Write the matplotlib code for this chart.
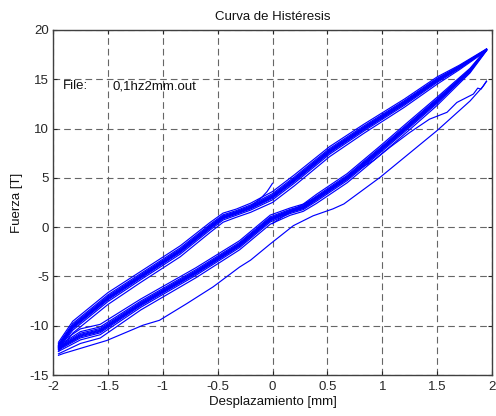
import numpy as np
import matplotlib
matplotlib.use('Agg')
import matplotlib.pyplot as plt

plt.rcParams['font.family'] = ['Liberation Sans', 'DejaVu Sans']
plt.rcParams['axes.unicode_minus'] = False

# banda superior (ciclos estables), de izquierda a derecha
upper_x = [-1.95, -1.82, -1.5, -1.2, -0.84, -0.57, -0.45, -0.33, -0.2, 0.0, 0.2, 0.52, 0.83, 1.2, 1.5, 1.7, 1.95]
upper_y = [-12.1, -10.1, -7.2, -5.0, -2.4, 0.0, 1.0, 1.45, 2.0, 3.1, 4.8, 7.7, 10.0, 12.6, 14.9, 16.2, 18.0]
upper_spread = [0.5, 0.65, 0.65, 0.6, 0.6, 0.55, 0.5, 0.45, 0.5, 0.6, 0.6, 0.55, 0.5, 0.45, 0.4, 0.25, 0.1]

# banda inferior, de izquierda a derecha
lower_x = [-1.95, -1.75, -1.57, -1.2, -0.7, -0.3, -0.02, 0.16, 0.28, 0.4, 0.68, 0.98, 1.22, 1.5, 1.8, 1.95]
lower_y = [-12.3, -11.0, -10.5, -7.8, -4.6, -1.8, 0.8, 1.6, 2.0, 2.9, 5.0, 7.8, 10.1, 12.8, 15.9, 18.0]
lower_spread = [0.55, 0.8, 0.75, 0.6, 0.55, 0.5, 0.5, 0.4, 0.4, 0.5, 0.5, 0.5, 0.5, 0.45, 0.25, 0.1]

# posicion relativa de cada ciclo dentro de la banda
cycle_pos = [-1.0, -0.55, -0.3, -0.15, -0.05, 0.05, 0.15, 0.3, 0.5, 0.85]

# primera carga (linea fina mas baja)
first_x = [-1.95, -1.9, -1.51, -1.18, -1.03, -0.78, -0.54, -0.3, -0.2, -0.02, 0.19, 0.37, 0.55, 0.65,
           0.98, 1.5, 1.8, 1.88, 1.92, 1.95]
first_y = [-13.0, -12.8, -11.5, -9.95, -9.45, -7.75, -6.05, -4.05, -3.35, -1.7, 0.15, 1.15, 1.85, 2.35,
           5.05, 9.8, 12.8, 13.8, 14.3, 14.8]

# primera descarga (ondulada)
back_x = [1.95, 1.9, 1.87, 1.83, 1.68, 1.59, 1.43, 1.25, 1.07, 0.92, 0.77, 0.46, 0.16]
back_y = [14.8, 14.0, 14.1, 13.5, 12.65, 11.65, 10.95, 9.6, 8.1, 6.75, 5.75, 3.4, 1.6]

# inicio y final del ensayo
start_x = [0.0, -0.02, -0.05, -0.1, -0.2]
start_y = [4.45, 4.1, 3.6, 3.0, 2.1]
end_x = [0.16, 0.1, 0.03, 0.0]
end_y = [1.5, 1.1, 0.6, 0.35]

xticks = [-2, -1.5, -1, -0.5, 0, 0.5, 1, 1.5, 2]
xlabels = ['-2', '-1.5', '-1', '-0.5', '0', '0.5', '1', '1.5', '2']
yticks = [-15, -10, -5, 0, 5, 10, 15, 20]

blue = '#0000ff'
lw = 0.85
fs = 9.5

fig = plt.figure(figsize=(4.96, 4.16), dpi=100)
ax = fig.add_axes([53 / 496, 1 - 375 / 416, 439 / 496, 345 / 416])

for c in cycle_pos:
    ax.plot(upper_x, np.array(upper_y) + c * np.array(upper_spread), color=blue, lw=lw)
    ax.plot(lower_x, np.array(lower_y) + c * np.array(lower_spread), color=blue, lw=lw)

ax.plot(first_x, first_y, color=blue, lw=lw)
ax.plot(back_x, back_y, color=blue, lw=lw)
ax.plot(start_x, start_y, color=blue, lw=lw)
ax.plot(end_x, end_y, color=blue, lw=lw)

ax.set_xlim(-2, 2)
ax.set_ylim(-15, 20)
ax.set_xticks(xticks)
ax.set_xticklabels(xlabels)
ax.set_yticks(yticks)
ax.grid(True, color='#666666', linewidth=0.8, linestyle=(0, (6, 3.6)))
ax.set_axisbelow(True)
ax.tick_params(direction='in', length=3, width=0.8, top=True, right=True,
               labelsize=fs, colors='#262626')
ax.tick_params(axis='x', pad=4.5)
ax.tick_params(axis='y', pad=3)
for s in ax.spines.values():
    s.set_color('#404040')
    s.set_linewidth(1.0)

ax.text(-1.91, 14.3, 'File:', fontsize=fs, va='center', ha='left', color='#111111')
ax.text(-1.46, 14.3, '0,1hz2mm.out', fontsize=fs, va='center', ha='left', color='#111111')

ax.set_title('Curva de Histéresis', fontsize=fs, pad=7, color='#111111')
ax.set_xlabel('Desplazamiento [mm]', fontsize=fs, labelpad=2, color='#111111')
ax.set_ylabel('Fuerza [T]', fontsize=fs, labelpad=5, color='#111111')

fig.savefig('out.png', dpi=100)
